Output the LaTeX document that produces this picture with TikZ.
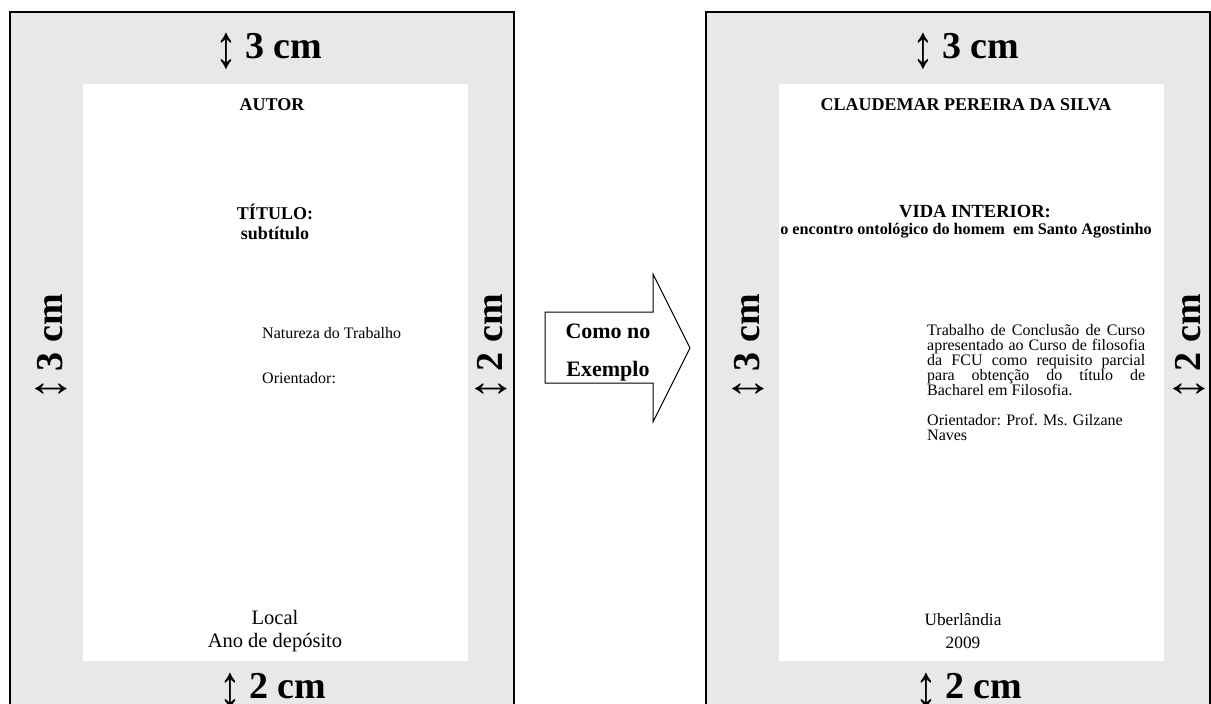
\documentclass[tikz,border=0pt]{standalone}
\usepackage{fontspec}
\usepackage{graphicx}
\setmainfont{Liberation Serif}
\usetikzlibrary{positioning}

\newcommand{\setavert}{\raisebox{-0.24em}{\scalebox{1.15}[1.6]{↕}}\hspace{0.2em}}
\newcommand{\setalado}{\raisebox{-0.08em}{\scalebox{1.1}[1.4]{↕}}\hspace{0.2em}}
\newcommand{\linhajusta}{\lineskiplimit=-20pt\relax}

\begin{document}
\begin{tikzpicture}[x=1pt, y=-1pt,
    folha/.style={draw=black, line width=1.6pt, fill=black!9},
    mancha/.style={fill=white},
    margem/.style={font=\fontsize{38}{40}\selectfont\bfseries, inner sep=0pt, anchor=base},
    titulo/.style={font=\fontsize{18}{20}\selectfont\bfseries, align=center, inner sep=0pt},
    corpo/.style={font=\fontsize{16}{15}\selectfont\linhajusta, inner sep=0pt},
    rodape/.style={font=\fontsize{20.5}{23}\selectfont, align=center, inner sep=0pt}]
    \useasboundingbox (0,0) rectangle (1211,704);

    % folha modelo
    \path[folha] (10,12) rectangle (514,740);
    \path[mancha] (83,84) rectangle (468,661);
    \node[margem] (topoA) at (269,58) {\setavert 3 cm};
    \node[margem, rotate=90] (esqA) at (62,347) {\setalado 3 cm};
    \node[margem, rotate=90] (dirA) at (502,347) {\setalado 2 cm};
    \node[margem] (baseA) at (273,698) {\setavert 2 cm};
    \node[titulo] (autorA) at (272,105) {AUTOR};
    \node[titulo] (tituloA) at (275,222) {TÍTULO:\\subtítulo};
    \node[corpo, anchor=west] (natureza) at (262,333) {Natureza do Trabalho};
    \node[corpo, anchor=west] (orientA) at (262,378) {Orientador:};
    \node[rodape] (localA) at (275,631) {Local\\Ano de depósito};

    % seta
    \draw[line width=1pt, fill=white] (545,312) -- (653,312) -- (653,274) -- (690,348)
        -- (653,422) -- (653,383) -- (545,383) -- cycle;
    \node[font=\fontsize{22}{38}\selectfont\bfseries, align=center, inner sep=0pt] (como) at (608,353) {Como no\\Exemplo};

    % folha exemplo
    \path[folha] (706,12) rectangle (1210,740);
    \path[mancha] (779,84) rectangle (1164,661);
    \node[margem] (topoB) at (966,58) {\setavert 3 cm};
    \node[margem, rotate=90] (esqB) at (759,347) {\setalado 3 cm};
    \node[margem, rotate=90] (dirB) at (1200,347) {\setalado 2 cm};
    \node[margem] (baseB) at (969,698) {\setavert 2 cm};
    \node[titulo] (autorB) at (966,105) {CLAUDEMAR PEREIRA DA SILVA};
    \node[titulo, font=\fontsize{18.5}{20}\selectfont\bfseries] (vida) at (975,212) {VIDA INTERIOR:};
    \node[titulo, font=\fontsize{16.2}{18}\selectfont\bfseries] (encontro) at (966,231) {o encontro ontológico do homem\ \ em Santo Agostinho};
    \node[corpo, text width=218pt, align=justify, anchor=north west] (trabalho) at (927,324)
        {Trabalho de Conclusão de Curso\linebreak apresentado ao Curso de filosofia\linebreak
         da FCU como requisito parcial\linebreak para obtenção do título de\linebreak Bacharel em Filosofia.};
    \node[corpo, align=left, anchor=north west] (orientB) at (927,414) {Orientador: Prof. Ms. Gilzane\\Naves};
    \node[rodape, font=\fontsize{17.3}{23}\selectfont] (localB) at (963,631) {Uberlândia\\2009};
\end{tikzpicture}
\end{document}
